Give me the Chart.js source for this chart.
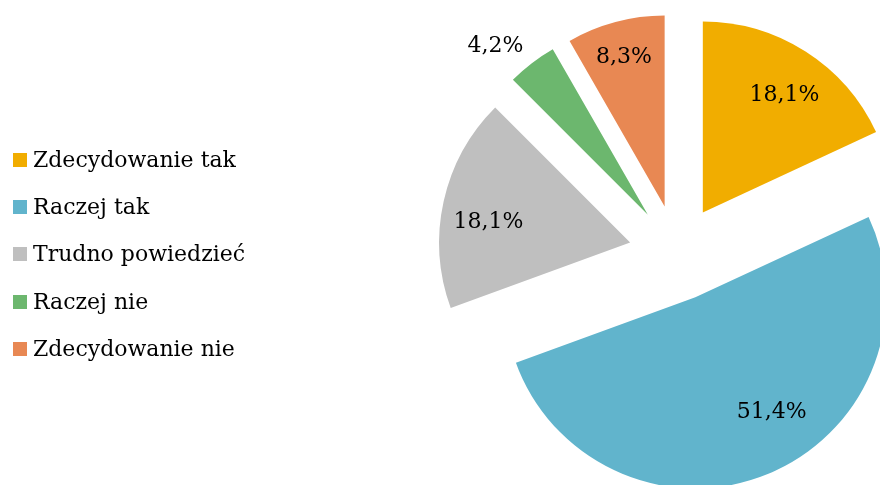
<!DOCTYPE html>
<html lang="pl">
<head>
<meta charset="utf-8">
<title>Odpowiedzi</title>
<script src="https://cdn.jsdelivr.net/npm/chart.js@4.4.1/dist/chart.umd.min.js"></script>
<style>
  html, body { margin: 0; padding: 0; background: #ffffff; }
  #wrap { position: relative; width: 880px; height: 485px; overflow: hidden; }
  #wykres { position: absolute; left: 0; top: 0; }
  #legenda { position: absolute; left: 13px; top: 146px; margin: 0; padding: 0; list-style: none;
    font-family: "DejaVu Serif", serif; font-size: 22px; color: #000; }
  #legenda li { height: 47.2px; display: flex; align-items: flex-start; white-space: nowrap; }
  #legenda .kolor { width: 14px; height: 14px; margin: 7px 6px 0 0; flex: none; }
  #legenda .tekst { line-height: 27px; }
</style>
</head>
<body>
<div id="wrap">
  <canvas id="wykres" width="880" height="485"></canvas>
  <ul id="legenda"></ul>
</div>
<script>
const kategorie = ["Zdecydowanie tak", "Raczej tak", "Trudno powiedzieć", "Raczej nie", "Zdecydowanie nie"];
const procenty = [18.1, 51.4, 18.1, 4.2, 8.3];
const kolory = ["#F1AD00", "#61B4CC", "#BFBFBF", "#6CB76E", "#E88853"];

// gdzie stoi etykieta: ułamek promienia i lekki obrót od środka wycinka (stopnie)
const etykietaPromien = [0.75, 0.72, 0.75, 1.19, 0.81];
const etykietaObrot = [2.2, -11.2, -4.2, -4.7, -0.3];

const PROMIEN = 191;
const WYSUNIECIE = 48; // px, o ile wycinki odsuniete od srodka

function formatoProcent(v) {
  return v.toFixed(1).replace(".", ",") + "%";
}

function przesuniecie(arc) {
  const srodek = (arc.startAngle + arc.endAngle) / 2;
  return { kat: srodek, dx: Math.cos(srodek) * WYSUNIECIE, dy: Math.sin(srodek) * WYSUNIECIE };
}

// wycinki rysowane recznie z przesunieciem (wbudowany offset powieksza duze wycinki)
const rozsunieciePlugin = {
  id: "rozsuniecie",
  beforeDatasetDraw(chart, args) {
    const ctx = chart.ctx;
    args.meta.data.forEach(function (arc) {
      const s = przesuniecie(arc);
      ctx.save();
      ctx.translate(s.dx, s.dy);
      arc.draw(ctx);
      ctx.restore();
    });
    return false;
  },
};

// podpisy wartosci na wycinkach
const etykietyPlugin = {
  id: "etykiety",
  afterDatasetsDraw(chart) {
    const ctx = chart.ctx;
    const meta = chart.getDatasetMeta(0);
    ctx.save();
    ctx.font = '22px "DejaVu Serif", serif';
    ctx.fillStyle = "#000000";
    ctx.textAlign = "center";
    ctx.textBaseline = "middle";
    meta.data.forEach(function (arc, i) {
      const s = przesuniecie(arc);
      const kat = s.kat + etykietaObrot[i] * Math.PI / 180;
      const r = arc.outerRadius * etykietaPromien[i];
      ctx.fillText(formatoProcent(procenty[i]), arc.x + s.dx + Math.cos(kat) * r, arc.y + s.dy + Math.sin(kat) * r);
    });
    ctx.restore();
  },
};

const wykres = new Chart(document.getElementById("wykres"), {
  type: "pie",
  data: {
    labels: kategorie,
    datasets: [
      {
        data: procenty,
        backgroundColor: kolory,
        borderWidth: 0,
      },
    ],
  },
  options: {
    responsive: false,
    animation: false,
    radius: PROMIEN,
    layout: {
      padding: { left: 474, right: 0, top: 21, bottom: 0 },
    },
    plugins: {
      legend: { display: false },
      tooltip: { enabled: false },
    },
  },
  plugins: [rozsunieciePlugin, etykietyPlugin],
});

// legenda po lewej stronie
let html = "";
kategorie.forEach(function (k, i) {
  html += `<li><span class="kolor" style="background:${kolory[i]}"></span><span class="tekst">${k}</span></li>`;
});
document.getElementById("legenda").innerHTML = html;
</script>
</body>
</html>
